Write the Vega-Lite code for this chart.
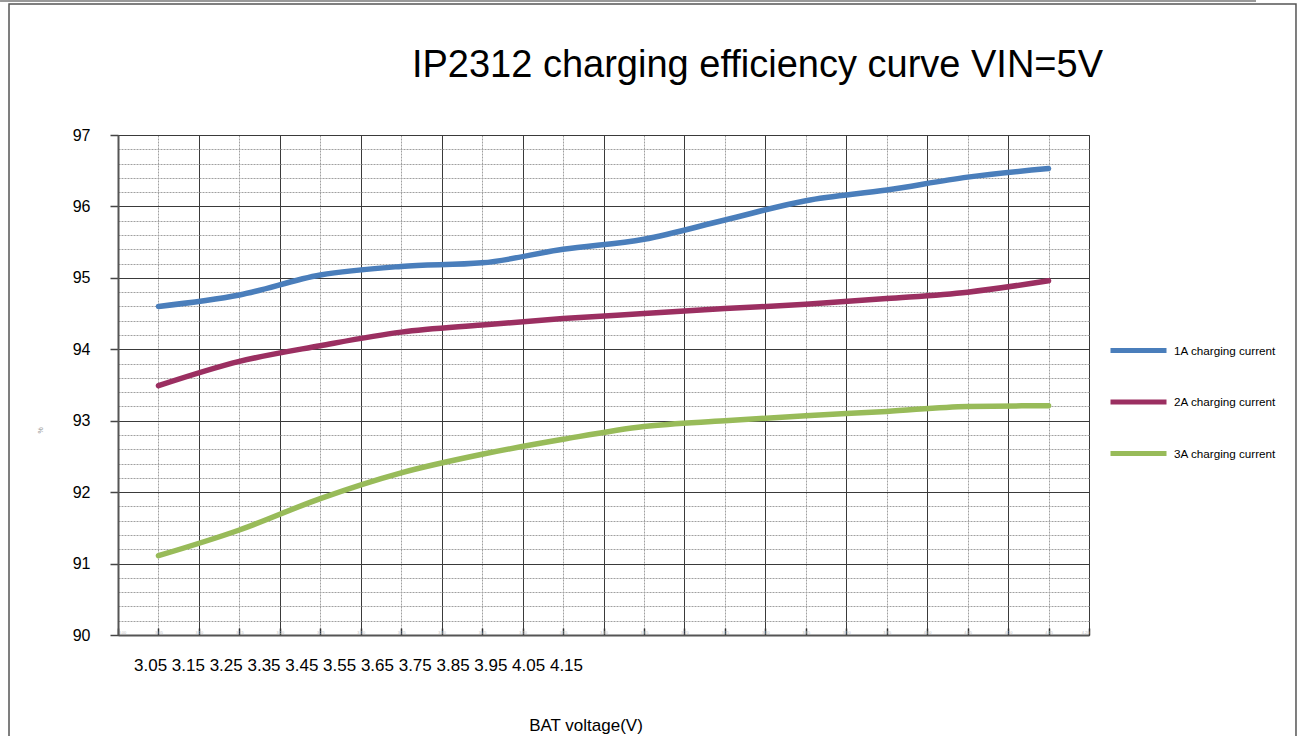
{
  "$schema": "https://vega.github.io/schema/vega-lite/v6.json",
  "width": 971,
  "height": 500,
  "autosize": {"type": "none"},
  "padding": {"left": 118, "top": 135, "right": 210, "bottom": 101},
  "background": "white",
  "config": {"font": "Liberation Sans", "view": {"stroke": "#777", "strokeWidth": 1}},
  "title": {"text": "IP2312 charging efficiency curve VIN=5V", "fontSize": 38, "fontWeight": "normal", "color": "black", "anchor": "middle", "frame": "group", "dx": 154, "offset": -115, "baseline": "alphabetic", "font": "Liberation Sans"},
  "datasets": {
    "eff": [
      {"v": 3.05, "series": "1A charging current", "eff": 94.60},
      {"v": 3.15, "series": "1A charging current", "eff": 94.76},
      {"v": 3.25, "series": "1A charging current", "eff": 95.04},
      {"v": 3.35, "series": "1A charging current", "eff": 95.16},
      {"v": 3.45, "series": "1A charging current", "eff": 95.21},
      {"v": 3.55, "series": "1A charging current", "eff": 95.40},
      {"v": 3.65, "series": "1A charging current", "eff": 95.54},
      {"v": 3.75, "series": "1A charging current", "eff": 95.81},
      {"v": 3.85, "series": "1A charging current", "eff": 96.08},
      {"v": 3.95, "series": "1A charging current", "eff": 96.23},
      {"v": 4.05, "series": "1A charging current", "eff": 96.41},
      {"v": 4.15, "series": "1A charging current", "eff": 96.53},
      {"v": 3.05, "series": "2A charging current", "eff": 93.49},
      {"v": 3.15, "series": "2A charging current", "eff": 93.83},
      {"v": 3.25, "series": "2A charging current", "eff": 94.05},
      {"v": 3.35, "series": "2A charging current", "eff": 94.24},
      {"v": 3.45, "series": "2A charging current", "eff": 94.34},
      {"v": 3.55, "series": "2A charging current", "eff": 94.43},
      {"v": 3.65, "series": "2A charging current", "eff": 94.50},
      {"v": 3.75, "series": "2A charging current", "eff": 94.57},
      {"v": 3.85, "series": "2A charging current", "eff": 94.63},
      {"v": 3.95, "series": "2A charging current", "eff": 94.71},
      {"v": 4.05, "series": "2A charging current", "eff": 94.80},
      {"v": 4.15, "series": "2A charging current", "eff": 94.96},
      {"v": 3.05, "series": "3A charging current", "eff": 91.11},
      {"v": 3.15, "series": "3A charging current", "eff": 91.47},
      {"v": 3.25, "series": "3A charging current", "eff": 91.91},
      {"v": 3.35, "series": "3A charging current", "eff": 92.27},
      {"v": 3.45, "series": "3A charging current", "eff": 92.53},
      {"v": 3.55, "series": "3A charging current", "eff": 92.74},
      {"v": 3.65, "series": "3A charging current", "eff": 92.92},
      {"v": 3.75, "series": "3A charging current", "eff": 93.00},
      {"v": 3.85, "series": "3A charging current", "eff": 93.07},
      {"v": 3.95, "series": "3A charging current", "eff": 93.13},
      {"v": 4.05, "series": "3A charging current", "eff": 93.20},
      {"v": 4.15, "series": "3A charging current", "eff": 93.21}
    ],
    "labels": [
      {"text": "3.05 3.15 3.25 3.35 3.45 3.55 3.65 3.75 3.85 3.95 4.05 4.15", "x": 3.0198, "y": 89.5}
    ],
    "frame": [
      {"x": 2.8653, "x2": 4.4558, "y": 98.834, "y2": 88.46}
    ],
    "topline": [
      {"x": 2.8542, "x2": 4.4064, "y": 98.876}
    ]
  },
  "layer": [
    {
      "data": {"name": "eff"},
      "mark": {"type": "line", "strokeWidth": 5.5, "strokeCap": "round", "strokeJoin": "round", "interpolate": "monotone"},
      "encoding": {
        "x": {
          "field": "v", "type": "quantitative",
          "scale": {"domain": [3.0, 4.2], "nice": false, "zero": false},
          "axis": {
            "values": [3.0, 3.05, 3.1, 3.15, 3.2, 3.25, 3.3, 3.35, 3.4, 3.45, 3.5, 3.55, 3.6, 3.65, 3.7, 3.75, 3.8, 3.85, 3.9, 3.95, 4.0, 4.05, 4.1, 4.15, 4.2],
            "tickCount": 200,
            "title": "BAT voltage(V)", "titleFontSize": 17, "titleFontWeight": "normal", "titleColor": "black",
            "titleX": 467.5, "titleY": 95, "titleBaseline": "alphabetic", "titleAlign": "center", "titleAnchor": "start",
            "grid": true,
            "gridColor": {"condition": {"test": "round(datum.value*20) % 2 === 1", "value": "#a0a0a0"}, "value": "#3a3a3a"},
            "gridDash": {"condition": {"test": "round(datum.value*20) % 2 === 1", "value": [2, 1]}, "value": []},
            "gridWidth": 1,
            "domainColor": "#555", "domainWidth": 2,
            "tickSize": -7, "tickColor": "#333", "tickWidth": 1.5,
            "labelFontSize": 4, "labelColor": "#c0c0c0", "labelPadding": 2, "format": ".2f", "labelOverlap": false
          }
        },
        "y": {
          "field": "eff", "type": "quantitative",
          "scale": {"domain": [90, 97], "nice": false, "zero": false},
          "axis": {
            "values": [90, 90.2, 90.4, 90.6, 90.8, 91, 91.2, 91.4, 91.6, 91.8, 92, 92.2, 92.4, 92.6, 92.8, 93, 93.2, 93.4, 93.6, 93.8, 94, 94.2, 94.4, 94.6, 94.8, 95, 95.2, 95.4, 95.6, 95.8, 96, 96.2, 96.4, 96.6, 96.8, 97],
            "tickCount": 200,
            "title": "%", "titleFontSize": 7, "titleColor": "#999", "titleFontWeight": "normal",
            "titleX": -78, "titleY": 295, "titleAngle": -90, "titleAnchor": "start", "titleAlign": "center", "titleBaseline": "middle",
            "grid": true,
            "gridColor": {"condition": {"test": "abs(datum.value - round(datum.value)) < 0.001", "value": "#3a3a3a"}, "value": "#a0a0a0"},
            "gridDash": {"condition": {"test": "abs(datum.value - round(datum.value)) < 0.001", "value": []}, "value": [2, 1]},
            "gridWidth": 1,
            "tickOpacity": {"condition": {"test": "abs(datum.value - round(datum.value)) < 0.001", "value": 1}, "value": 0},
            "tickSize": 8, "tickColor": "#444", "tickWidth": 1.5,
            "labelExpr": "abs(datum.value - round(datum.value)) < 0.001 ? format(datum.value, 'd') : ''",
            "labelFontSize": 16, "labelColor": "black", "labelPadding": 20, "labelOverlap": false,
            "domainColor": "#555", "domainWidth": 2
          }
        },
        "color": {
          "field": "series", "type": "nominal",
          "scale": {"domain": ["1A charging current", "2A charging current", "3A charging current"], "range": ["#4A7EBB", "#9B2F61", "#98BB59"]},
          "legend": {"orient": "none", "legendX": 990, "legendY": 185, "title": null, "symbolType": "stroke", "symbolStrokeWidth": 5, "symbolSize": 3136, "labelFontSize": 11.7, "labelColor": "black", "labelOffset": 5, "rowPadding": 10.5, "padding": 0, "labelFont": "Liberation Sans"}
        }
      }
    },
    {
      "data": {"name": "labels"},
      "mark": {"type": "text", "align": "left", "baseline": "alphabetic", "fontSize": 17, "color": "black", "font": "Liberation Sans"},
      "encoding": {
        "x": {"field": "x", "type": "quantitative"},
        "y": {"field": "y", "type": "quantitative"},
        "text": {"field": "text"}
      }
    },
    {
      "data": {"name": "frame"},
      "mark": {"type": "rect", "fill": null, "fillOpacity": 0, "stroke": "#555", "strokeWidth": 1.5, "clip": false},
      "encoding": {
        "x": {"field": "x", "type": "quantitative"},
        "x2": {"field": "x2"},
        "y": {"field": "y", "type": "quantitative"},
        "y2": {"field": "y2"}
      }
    },
    {
      "data": {"name": "topline"},
      "mark": {"type": "rule", "stroke": "#999", "strokeWidth": 2},
      "encoding": {
        "x": {"field": "x", "type": "quantitative"},
        "x2": {"field": "x2"},
        "y": {"field": "y", "type": "quantitative"}
      }
    }
  ]
}
